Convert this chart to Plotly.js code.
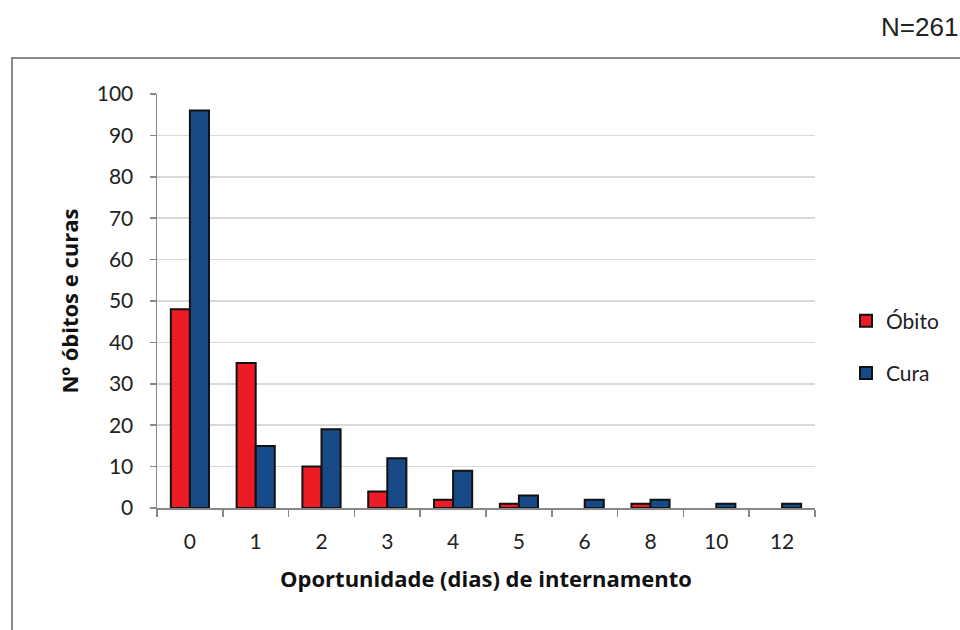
<!DOCTYPE html>
<html><head><meta charset="utf-8">
<script src="https://cdn.plot.ly/plotly-3.0.1.min.js"></script>
<style>html,body{margin:0;padding:0;background:#fff}#c{width:960px;height:630px}</style>
</head><body><div id="c"></div>
<script>
const categories = ["0","1","2","3","4","5","6","8","10","12"];
const obito = [48,35,10,4,2,1,0,1,0,0];
const cura = [96,15,19,12,9,3,2,2,1,1];
const seriesNames = ["Óbito","Cura"];
const yTicks = [0,10,20,30,40,50,60,70,80,90,100];

const L=157,R=815,T=94,B=508,W=960,H=630;
const pw=R-L, ph=B-T;
const px=x=>(x-L)/pw, py=y=>(B-y)/ph;
const font="Lato, 'Open Sans', sans-serif";
const hideZero=v=>v===0?null:v;

const traces=[
 {type:"bar",x:categories,y:obito.map(hideZero),name:seriesNames[0],legendgroup:"a",
  marker:{color:"#ED1C24",line:{color:"#111",width:2}}},
 {type:"bar",x:categories,y:cura.map(hideZero),name:seriesNames[1],legendgroup:"b",
  marker:{color:"#174A86",line:{color:"#111",width:2}}}
];
const layout={
 width:W,height:H,margin:{l:L,r:W-R,t:T,b:H-B,autoexpand:false},
 paper_bgcolor:"#fff",plot_bgcolor:"#fff",
 barmode:"group",bargap:0.42,bargroupgap:0,
 font:{family:font,color:"#222",size:21},
 xaxis:{type:"category",tickson:"boundaries",ticks:"outside",ticklen:7,tickcolor:"#888",tickwidth:1.5,
   showline:true,linecolor:"#888",linewidth:1.5,showgrid:false,ticklabelstandoff:14,
   tickfont:{size:21,family:font,color:"#222"},
   title:{text:"<b>Oportunidade (dias) de internamento</b>",font:{size:22,family:"'Open Sans', sans-serif",color:"#111"},standoff:20}},
 yaxis:{range:[0,100],tickvals:yTicks,ticks:"outside",ticklen:6,tickcolor:"#888",tickwidth:1.5,
   showline:true,linecolor:"#888",linewidth:1.5,gridcolor:"#d9d9d9",gridwidth:1.5,zeroline:false,
   ticklabelstandoff:12,
   tickfont:{size:21,family:font,color:"#222"},
   title:{text:"<b>Nº óbitos e curas</b>",font:{size:22,family:"'Open Sans', sans-serif",color:"#111"},standoff:12}},
 legend:{x:px(846),y:py(347),xanchor:"left",yanchor:"middle",traceorder:"grouped",tracegroupgap:22,
   font:{size:21,family:font,color:"#222"},bgcolor:"rgba(0,0,0,0)"},
 shapes:[{type:"rect",xref:"paper",yref:"paper",x0:px(12),x1:px(990),y0:py(660),y1:py(58),
   line:{color:"#8a8a8a",width:2},fillcolor:"rgba(0,0,0,0)",layer:"below"}],
 annotations:[{xref:"paper",yref:"paper",x:px(879),y:py(27),xanchor:"left",yanchor:"middle",
   text:"N=261",showarrow:false,font:{size:26,family:"'Liberation Sans', Arial, sans-serif",color:"#222"}}]
};
Plotly.newPlot("c",traces,layout,{displayModeBar:false,staticPlot:true});
</script></body></html>
